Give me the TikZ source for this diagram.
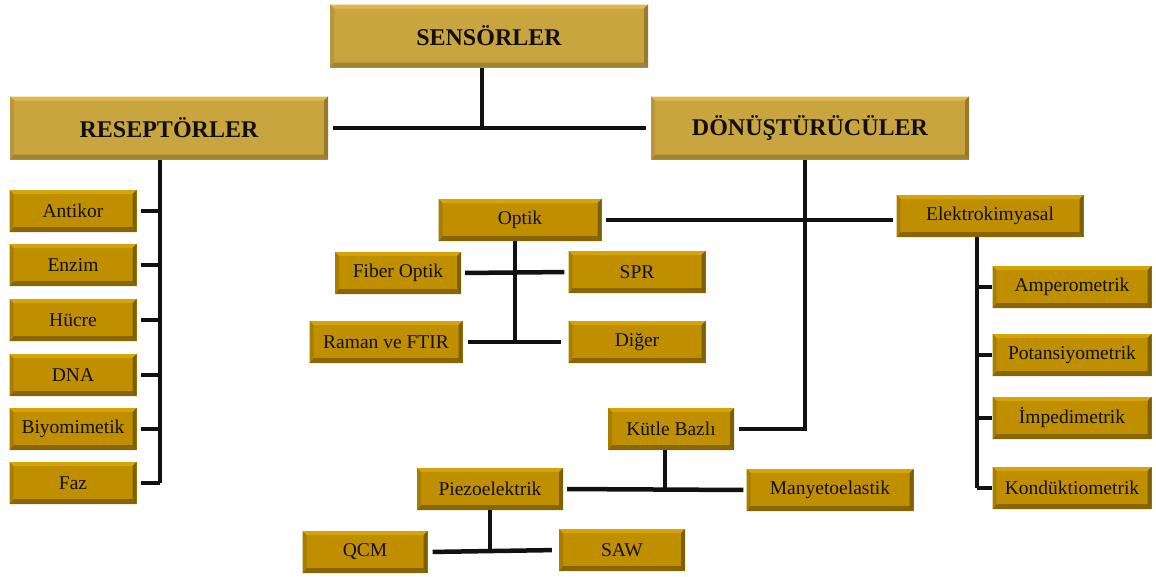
\documentclass[tikz,border=0pt]{standalone}
\usepackage{fontspec}
\setmainfont{Liberation Serif}
\usepackage{xcolor}
\usetikzlibrary{calc}

\definecolor{altin}{RGB}{191,143,0}
\definecolor{altinust}{RGB}{214,164,10}
\definecolor{altinalt}{RGB}{135,101,0}
\definecolor{altinsol}{RGB}{168,126,0}
\definecolor{altinsag}{RGB}{125,94,0}
\definecolor{anaaltin}{RGB}{201,165,64}
\definecolor{anaust}{RGB}{222,184,76}
\definecolor{anaalt}{RGB}{160,131,52}
\definecolor{anasol}{RGB}{184,150,58}
\definecolor{anasag}{RGB}{150,122,48}
\definecolor{yazi}{RGB}{18,16,12}
\definecolor{cizgi}{RGB}{17,17,17}

\begin{document}
\begin{tikzpicture}[
      x=1pt, y=-1pt,
      fazet/.style n args={4}{path picture={
          \coordinate (nw) at (path picture bounding box.north west);
          \coordinate (ne) at (path picture bounding box.north east);
          \coordinate (sw) at (path picture bounding box.south west);
          \coordinate (se) at (path picture bounding box.south east);
          \fill[#1] (nw) -- (ne) -- ([xshift=-4pt,yshift=-4pt]ne) -- ([xshift=4pt,yshift=-4pt]nw) -- cycle;
          \fill[#2] (sw) -- (se) -- ([xshift=-4pt,yshift=5pt]se) -- ([xshift=4pt,yshift=5pt]sw) -- cycle;
          \fill[#3] (nw) -- ([xshift=4pt,yshift=-4pt]nw) -- ([xshift=4pt,yshift=5pt]sw) -- (sw) -- cycle;
          \fill[#4] (ne) -- ([xshift=-4pt,yshift=-4pt]ne) -- ([xshift=-4pt,yshift=5pt]se) -- (se) -- cycle;
        }},
      kutu/.style={fill=altin, fazet={altinust}{altinalt}{altinsol}{altinsag},
                   text=yazi, inner sep=0pt, minimum height=42pt,
                   font={\fontsize{19.5}{23}\selectfont}},
      anakutu/.style={fill=anaaltin, fazet={anaust}{anaalt}{anasol}{anasag},
                      text=yazi, inner sep=0pt, minimum width=318pt, minimum height=63pt,
                      font={\fontsize{24}{28}\selectfont\bfseries}},
      bag/.style={draw=cizgi, line width=4.5pt}
    ]
    \useasboundingbox (0,0) rectangle (1156,576);

    % ana basliklar
    \node[anakutu] (sens)  at (489,36)  {SENSÖRLER};
    \node[anakutu] (resep) at (169,128) {RESEPTÖRLER};
    \node[anakutu] (donus) at (810,128) {DÖNÜŞTÜRÜCÜLER};

    % reseptorler
    \node[kutu, minimum width=127pt] (antikor) at (73,211) {Antikor};
    \node[kutu, minimum width=127pt] (enzim)   at (73,265) {Enzim};
    \node[kutu, minimum width=127pt] (hucre)   at (73,320) {Hücre};
    \node[kutu, minimum width=127pt] (dna)     at (73,375) {DNA};
    \node[kutu, minimum width=127pt] (biyo)    at (73,429) {Biyomimetik};
    \node[kutu, minimum width=127pt] (faz)     at (73,483) {Faz};

    % optik
    \node[kutu, minimum width=163pt] (optik)  at (520,220) {Optik};
    \node[kutu, minimum width=126pt] (fiber)  at (398,273) {Fiber Optik};
    \node[kutu, minimum width=137pt] (spr)    at (637,272) {SPR};
    \node[kutu, minimum width=153pt] (raman)  at (386,342) {Raman ve FTIR};
    \node[kutu, minimum width=137pt] (diger)  at (637,342) {Diğer};

    % elektrokimyasal
    \node[kutu, minimum width=187pt] (elektro) at (990,216)  {Elektrokimyasal};
    \node[kutu, minimum width=159pt] (ampero)  at (1072,287) {Amperometrik};
    \node[kutu, minimum width=159pt] (potans)  at (1072,355) {Potansiyometrik};
    \node[kutu, minimum width=159pt] (imped)   at (1072,418) {İmpedimetrik};
    \node[kutu, minimum width=159pt] (kondu)   at (1072,488) {Kondüktiometrik};

    % kutle bazli
    \node[kutu, minimum width=126pt] (kutle)   at (671,429) {Kütle Bazlı};
    \node[kutu, minimum width=146pt] (piezo)   at (490,489) {Piezoelektrik};
    \node[kutu, minimum width=167pt] (manyeto) at (830,490) {Manyetoelastik};
    \node[kutu, minimum width=125pt] (qcm)     at (365,552) {QCM};
    \node[kutu, minimum width=126pt] (saw)     at (622,550) {SAW};

    \coordinate (sv) at (482,68);
    \coordinate (rv) at (160,160);
    \coordinate (ov) at (515,241);
    \coordinate (dv) at (805,160);
    \coordinate (ev) at (977,237);
    \coordinate (kv) at (665,450);

    \draw[bag] (sv) -- (sv |- resep.east);
    \draw[bag, shorten <=5pt, shorten >=5pt] (resep.east) -- (donus.west);

    \draw[bag] (rv) -- (rv |- faz.east);
    \foreach \k in {antikor,enzim,hucre,dna,biyo,faz}
      \draw[bag, shorten >=4pt] (rv |- \k.east) -- (\k.east);

    \draw[bag] (ov) -- (ov |- raman.east);
    \draw[bag, shorten <=4pt, shorten >=4pt] (fiber.east) -- (spr.west);
    \draw[bag, shorten <=5pt, shorten >=7pt] (raman.east) -- (diger.west);
    \draw[bag, shorten <=4pt, shorten >=3pt] (optik.east) -- (optik.east -| elektro.west);

    \draw[bag] (ev) -- (ev |- kondu.east);
    \foreach \k in {ampero,potans,imped,kondu}
      \draw[bag] (ev |- \k.west) -- (\k.west);

    \draw[bag, shorten >=5pt] (dv) -- (dv |- kutle.east) -- (kutle.east);
    \draw[bag] (kv) -- (kv |- piezo.east);
    \draw[bag, shorten <=4pt, shorten >=3pt] (piezo.east) -- (manyeto.west);
    \draw[bag] (piezo.south) -- (piezo.south |- qcm.east);
    \draw[bag, shorten <=5pt, shorten >=7pt] (qcm.east) -- (saw.west);
  \end{tikzpicture}
\end{document}
